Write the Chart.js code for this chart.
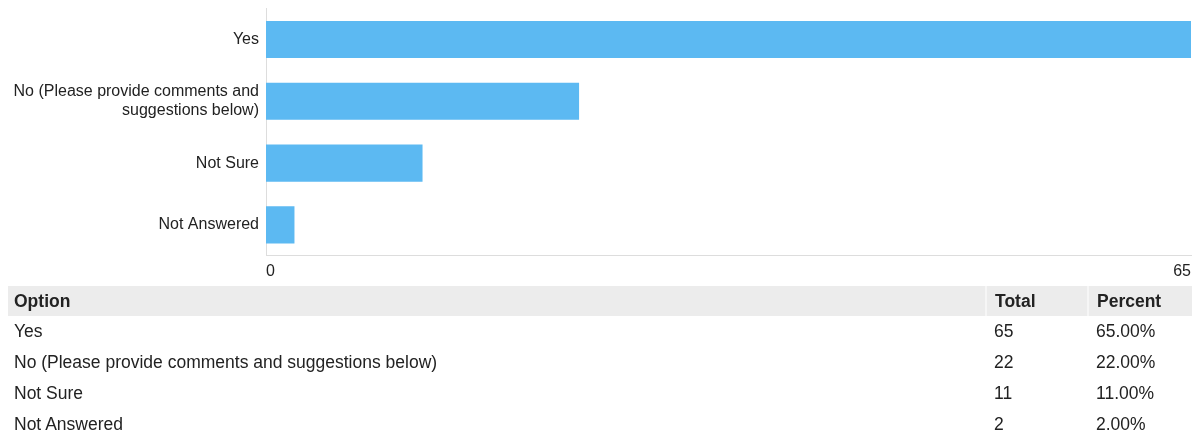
<!DOCTYPE html>
<html>
<head>
<meta charset="utf-8">
<title>Survey responses</title>
<script src="https://cdn.jsdelivr.net/npm/chart.js@4"></script>
<style>
  body { margin: 0; background: #fff; font-family: "Liberation Sans", Arial, sans-serif; color: #222; }
  #chartBox { position: relative; width: 1200px; height: 295px; margin-top: -8px; }
  table { position: absolute; left: 8px; top: 286px; width: 1184px; border-collapse: collapse; font-size: 17.5px; table-layout: fixed; }
  th { background: #ececec; text-align: left; font-weight: bold; height: 30px; padding: 0 6px; border-left: 2px solid #f6f6f6; }
  th:first-child { border-left: none; }
  td { height: 31px; padding: 0 6px; vertical-align: middle; }
  .c-total { width: 102px; }
  .c-pct { width: 104px; }
  th.c-total, th.c-pct, td:nth-child(2), td:nth-child(3) { padding-left: 8px; padding-right: 0; }
</style>
</head>
<body>
<div id="chartBox"><canvas id="responsesChart"></canvas></div>
<table id="responsesTable">
  <colgroup><col><col class="c-total"><col class="c-pct"></colgroup>
  <thead><tr><th>Option</th><th class="c-total">Total</th><th class="c-pct">Percent</th></tr></thead>
  <tbody></tbody>
</table>
<script>
// Response options, as shown on the chart (multi-line where wrapped) and in the table
const chartLabels = [
  'Yes',
  ['No (Please provide comments and', 'suggestions below)'],
  'Not Sure',
  'Not Answered'
];
const optionNames = ['Yes', 'No (Please provide comments and suggestions below)', 'Not Sure', 'Not Answered'];
const totals = [65, 22, 11, 2];
const percents = ['65.00%', '22.00%', '11.00%', '2.00%'];
const xTicks = [0, 65];

// Fill the summary table
const tbody = document.querySelector('#responsesTable tbody');
optionNames.forEach((name, i) => {
  const row = document.createElement('tr');
  row.innerHTML = '<td>' + name + '</td><td>' + totals[i] + '</td><td>' + percents[i] + '</td>';
  tbody.appendChild(row);
});

const labelFont = { family: '"Liberation Sans", Arial, sans-serif', size: 16 };

new Chart(document.getElementById('responsesChart').getContext('2d'), {
  type: 'bar',
  data: {
    labels: chartLabels,
    datasets: [{
      data: totals,
      backgroundColor: '#5cb9f2',
      borderWidth: 0,
      barPercentage: 0.6,
      categoryPercentage: 1
    }]
  },
  options: {
    indexAxis: 'y',
    responsive: true,
    maintainAspectRatio: false,
    animation: false,
    layout: { padding: { top: 0, right: 9, bottom: 0, left: 0 } },
    plugins: { legend: { display: false }, tooltip: { enabled: false } },
    scales: {
      x: {
        min: 0,
        max: 65,
        afterBuildTicks: function (scale) {
          scale.ticks = xTicks.map(v => ({ value: v }));
        },
        grid: { display: false, drawTicks: false },
        border: { display: true, color: '#dddddd', width: 1 },
        ticks: { align: 'inner', padding: 6, color: '#222', font: labelFont, maxRotation: 0 }
      },
      y: {
        afterFit: function (scale) { scale.width = 266; },
        grid: { display: false, drawTicks: false },
        border: { display: true, color: '#dddddd', width: 1 },
        ticks: { padding: 7, color: '#222', font: labelFont }
      }
    }
  }
});
</script>
</body>
</html>
